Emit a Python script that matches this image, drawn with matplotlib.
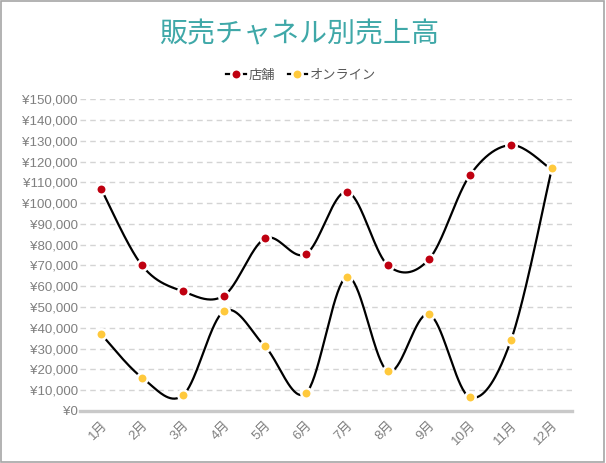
import numpy as np
import matplotlib
matplotlib.use("Agg")
import matplotlib.pyplot as plt
from matplotlib.lines import Line2D
from matplotlib.patches import Rectangle

plt.rcParams['font.family'] = ['Liberation Sans', 'Noto Sans CJK JP']

months = ['1月', '2月', '3月', '4月', '5月', '6月', '7月', '8月', '9月', '10月', '11月', '12月']
store = [107000, 70000, 57500, 55500, 83000, 75500, 105500, 70000, 73000, 113500, 128000, 116000]
online = [37000, 16000, 7500, 48000, 31000, 8500, 64500, 19000, 46500, 6500, 34000, 117000]
series_names = ['店舗', 'オンライン']
series_colors = ['#bf0010', '#ffc93c']
title = '販売チャネル別売上高'
yticks = list(range(0, 150001, 10000))


def smooth(xs, ys, n=40):
    xs = np.asarray(xs, float)
    ys = np.asarray(ys, float)
    px = np.concatenate([[xs[0]], xs, [xs[-1]]])
    py = np.concatenate([[ys[0]], ys, [ys[-1]]])
    ox, oy = [], []
    t = np.linspace(0, 1, n)
    for i in range(1, len(px) - 2):
        x0, x1, x2, x3 = px[i-1], px[i], px[i+1], px[i+2]
        y0, y1, y2, y3 = py[i-1], py[i], py[i+1], py[i+2]
        c1x = x1 + (x2 - x0) / 6
        c1y = y1 + (y2 - y0) / 6
        c2x = x2 - (x3 - x1) / 6
        c2y = y2 - (y3 - y1) / 6
        bx = (1-t)**3*x1 + 3*(1-t)**2*t*c1x + 3*(1-t)*t**2*c2x + t**3*x2
        by = (1-t)**3*y1 + 3*(1-t)**2*t*c1y + 3*(1-t)*t**2*c2y + t**3*y2
        ox.extend(bx); oy.extend(by)
    return np.array(ox), np.array(oy)


fig = plt.figure(figsize=(6.06, 4.63), dpi=100)
fig.patches.append(Rectangle((0.001, 0.002), 0.996, 0.995, transform=fig.transFigure,
                             fill=False, edgecolor='#a6a6a6', linewidth=1.2))
ax = fig.add_axes([0.1328, 0.1127, 0.8119, 0.6728])

x = np.arange(len(months))
for vals, col, name, z in [(store, series_colors[0], series_names[0], 3),
                           (online, series_colors[1], series_names[1], 4)]:
    sx, sy = smooth(x, vals)
    ax.plot(sx, sy, color='black', lw=1.6, zorder=z, solid_capstyle='butt')
    ax.plot(x, vals, linestyle='none', marker='o', ms=7.5, mfc=col, mec='white',
            mew=1.8, zorder=z + 0.5)

ax.set_xlim(-0.5, len(months) - 0.5)
ax.set_ylim(0, 150000)
ax.set_yticks(yticks)
ax.set_yticklabels(['¥{:,}'.format(v) for v in yticks])
ax.set_xticks(x)
ax.set_xticklabels(months, rotation=45, ha='right', va='top', rotation_mode='anchor')
ax.tick_params(axis='both', length=0, labelsize=9.5, labelcolor='#7f7f7f')
ax.tick_params(axis='y', pad=2)
ax.tick_params(axis='x', pad=6)
ax.yaxis.grid(True, color='#d4d4d4', lw=1, linestyle=(0, (4, 3)))
ax.set_axisbelow(True)
for s in ['top', 'right', 'left']:
    ax.spines[s].set_visible(False)
ax.spines['bottom'].set_color('#c9c9c9')
ax.spines['bottom'].set_linewidth(2.4)

fig.text(0.493, 0.925, title, ha='center', va='center', fontsize=20.2,
         color='#3fa8a8', family=['Noto Sans CJK JP'])

handles = [Line2D([], [], color='black', lw=1.6, marker='o', ms=7.5, mfc=c, mec='white', mew=1.8)
           for c in series_colors]
leg = fig.legend(handles, series_names, loc='center', bbox_to_anchor=(0.497, 0.836),
                 ncol=2, frameon=False, fontsize=9.5, handlelength=1.5, handletextpad=0.2,
                 columnspacing=0.95)
for t in leg.get_texts():
    t.set_color('#595959')

fig.savefig('out.png', dpi=100)
